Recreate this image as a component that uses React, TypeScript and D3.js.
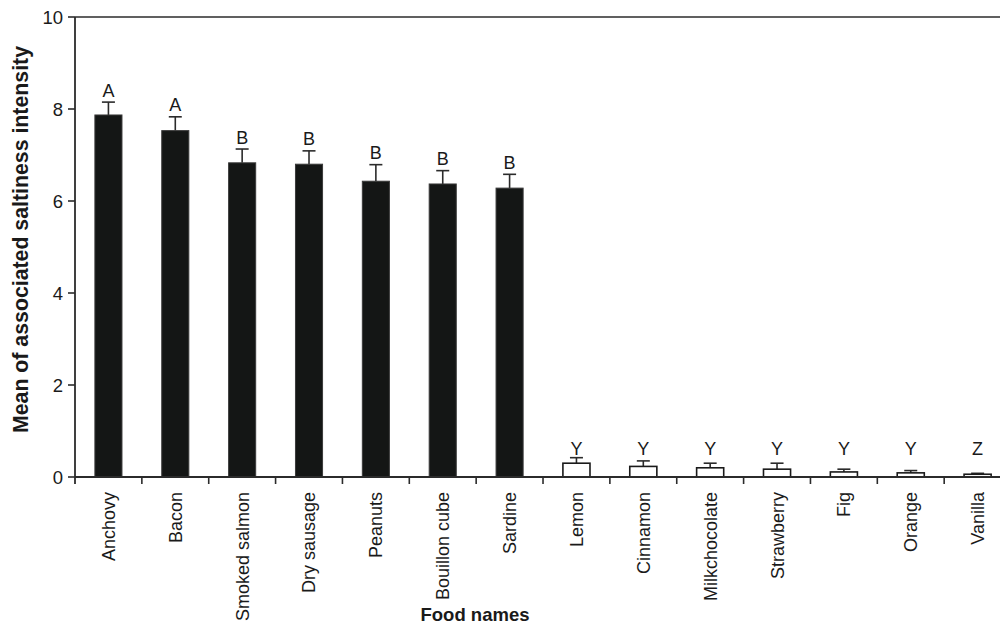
import React from "react";
import * as d3 from "d3";

// Mean associated saltiness intensity per food, with standard errors and group letters
const foods = [
  "Anchovy", "Bacon", "Smoked salmon", "Dry sausage", "Peanuts", "Bouillon cube", "Sardine",
  "Lemon", "Cinnamon", "Milkchocolate", "Strawberry", "Fig", "Orange", "Vanilla",
];
const means = [7.87, 7.53, 6.83, 6.8, 6.43, 6.37, 6.28, 0.3, 0.23, 0.2, 0.17, 0.11, 0.09, 0.06];
const errors = [0.28, 0.3, 0.3, 0.29, 0.36, 0.29, 0.3, 0.12, 0.12, 0.1, 0.13, 0.06, 0.05, 0.02];
const groups = ["A", "A", "B", "B", "B", "B", "B", "Y", "Y", "Y", "Y", "Y", "Y", "Z"];
const salty = [true, true, true, true, true, true, true, false, false, false, false, false, false, false];
const yTicks = [0, 2, 4, 6, 8, 10];

const W = 1000;
const H = 627;
const left = 75;
const top = 17;
const bottom = 477;
const step = 66.86;
const right = left + step * foods.length;

export default function App() {
  const x = d3.scaleBand<string>().domain(foods).range([left, right]).paddingInner(0.595).paddingOuter(0.2975);
  const xb = d3.scaleBand<string>().domain(foods).range([left, right]);
  const y = d3.scaleLinear().domain([0, 10]).range([bottom, top]);
  const font = "'Liberation Sans', Arial, Helvetica, sans-serif";
  const ink = "#2b2b2b";

  return (
    <div style={{ position: "absolute", left: 0, top: 0 }}>
      <svg width={W} height={H} style={{ display: "block", fontFamily: font }}>
        <rect x={0} y={0} width={W} height={H} fill="#fff" />
        {/* bars */}
        {foods.map((f, i) => {
          const bx = x(f)!;
          const bw = x.bandwidth();
          const cx = bx + bw / 2;
          const yTop = y(means[i]);
          const yErr = y(means[i] + errors[i]);
          const labelY = salty[i] ? yErr - 5.5 : y(0.47);
          return (
            <g key={f}>
              <line x1={cx} x2={cx} y1={yTop} y2={yErr} stroke={ink} strokeWidth={1.6} />
              <line x1={cx - 6.5} x2={cx + 6.5} y1={yErr} y2={yErr} stroke={ink} strokeWidth={1.6} />
              <rect
                x={bx}
                y={yTop}
                width={bw}
                height={bottom - yTop}
                fill={salty[i] ? "#141615" : "#ffffff"}
                stroke={salty[i] ? "#3a3a3a" : "#1a1a1a"}
                strokeWidth={salty[i] ? 1 : 1.6}
              />
              <text x={cx} y={labelY} textAnchor="middle" fontSize={18} fill="#1a1a1a">
                {groups[i]}
              </text>
            </g>
          );
        })}
        {/* frame */}
        <line x1={left} x2={right} y1={top} y2={top} stroke={ink} strokeWidth={1.6} />
        <line x1={right} x2={right} y1={top} y2={bottom} stroke={ink} strokeWidth={1.6} />
        <line x1={left} x2={right} y1={bottom} y2={bottom} stroke={ink} strokeWidth={1.8} />
        <line x1={left} x2={left} y1={top} y2={bottom + 7} stroke={ink} strokeWidth={1.8} />
        {/* y axis ticks */}
        {yTicks.map((t) => (
          <g key={t}>
            <line x1={left - 7} x2={left} y1={y(t)} y2={y(t)} stroke={ink} strokeWidth={1.6} />
            <text x={left - 12} y={y(t)} dy="0.36em" textAnchor="end" fontSize={18.5} fill="#1a1a1a">
              {t}
            </text>
          </g>
        ))}
        {/* x axis ticks at category boundaries */}
        {foods.map((f) => (
          <line key={f} x1={xb(f)! + step} x2={xb(f)! + step} y1={bottom} y2={bottom + 7} stroke={ink} strokeWidth={1.6} />
        ))}
        {/* category labels */}
        {foods.map((f) => {
          const cx = xb(f)! + step / 2;
          return (
            <text
              key={f}
              transform={`translate(${cx},${492}) rotate(-90)`}
              dy="0.36em"
              textAnchor="end"
              fontSize={18}
              fill="#1a1a1a"
            >
              {f}
            </text>
          );
        })}
        <text x={475} y={621} textAnchor="middle" fontSize={18.5} fontWeight="bold" fill="#1a1a1a">
          Food names
        </text>
        <text
          transform={`translate(28,${(top + bottom) / 2 - 7.5}) rotate(-90)`}
          textAnchor="middle"
          fontSize={21.3}
          fontWeight="bold"
          fill="#1a1a1a"
        >
          Mean of associated saltiness intensity
        </text>
      </svg>
    </div>
  );
}
